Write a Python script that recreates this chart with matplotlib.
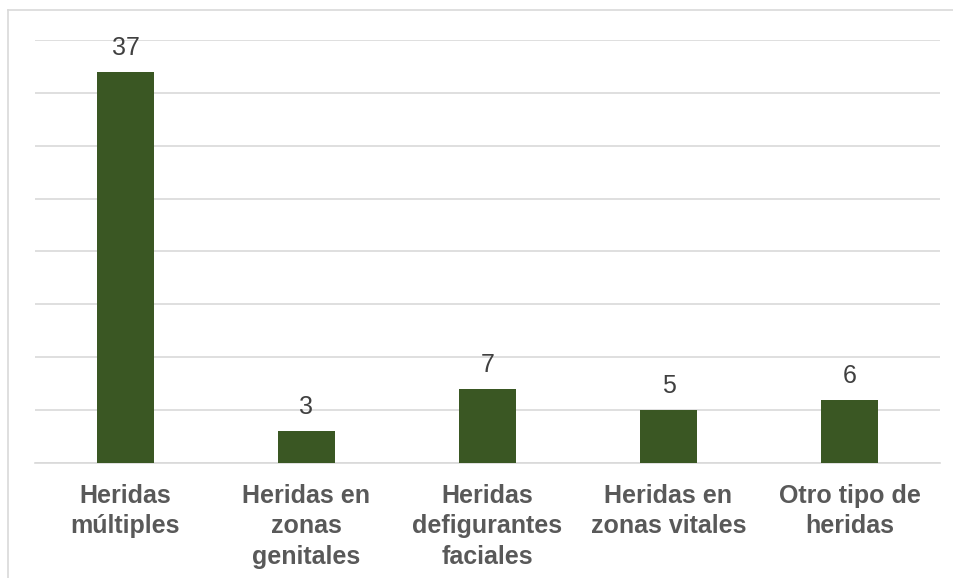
import matplotlib
matplotlib.use("Agg")
import matplotlib.pyplot as plt
from matplotlib.lines import Line2D

# datos
categorias = ["Heridas\nmúltiples", "Heridas en\nzonas\ngenitales",
              "Heridas\ndefigurantes\nfaciales", "Heridas en\nzonas vitales",
              "Otro tipo de\nheridas"]
valores = [37, 3, 7, 5, 6]
y_ticks = [0, 5, 10, 15, 20, 25, 30, 35, 40]

color_barra = "#3A5723"
color_texto = "#595959"
color_grid = "#D9D9D9"

plt.rcParams["font.family"] = ["Liberation Sans", "DejaVu Sans"]

W, H = 954, 578
fig = plt.figure(figsize=(W / 100, H / 100), dpi=100)
ax = fig.add_axes([35 / W, (H - 463) / H, (940 - 35) / W, (463 - 40) / H])

x = range(len(categorias))
barras = ax.bar(x, valores, width=0.31, color=color_barra, zorder=3)
for b, v in zip(barras, valores):
    ax.annotate(str(v), (b.get_x() + b.get_width() / 2, v),
                xytext=(0, 8.5), textcoords="offset points",
                ha="center", va="bottom", fontsize=18, color="#404040")

ax.set_xlim(-0.5, len(categorias) - 0.5)
ax.set_ylim(0, 40)
ax.set_yticks(y_ticks)
ax.set_yticklabels([])
ax.tick_params(axis="y", length=0)
ax.tick_params(axis="x", length=0, pad=15)
ax.set_xticks(list(x))
ax.set_xticklabels(categorias, fontsize=18, fontweight="bold",
                   color=color_texto, linespacing=1.34)
ax.grid(axis="y", color=color_grid, linewidth=1.2, zorder=0)
for s in ["top", "right", "left"]:
    ax.spines[s].set_visible(False)
ax.spines["bottom"].set_color(color_grid)
ax.spines["bottom"].set_linewidth(1.2)

# marco del gráfico
fig.add_artist(Line2D([8 / W, 8 / W], [0, 1 - 10 / H], color=color_grid, lw=1.2))
fig.add_artist(Line2D([8 / W, 1], [1 - 10 / H, 1 - 10 / H], color=color_grid, lw=1.2))

fig.savefig("out.png", dpi=100)
